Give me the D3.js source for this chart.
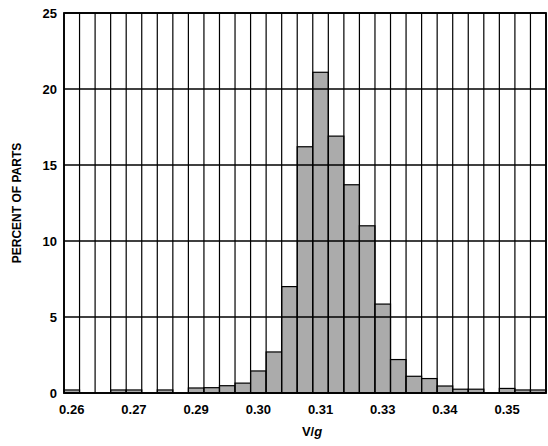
<!DOCTYPE html><html><head><meta charset="utf-8">
<script src="https://cdn.jsdelivr.net/npm/d3@7"></script>
<style>body{margin:0;background:#fff}text{font-family:"Liberation Sans",Arial,sans-serif;font-weight:bold}</style>
</head><body><svg id="c" width="548" height="446"></svg><script>
const values=[0.2,0,0,0.2,0.2,0,0.2,0,0.33,0.35,0.48,0.65,1.45,2.7,7.0,16.2,21.1,16.9,13.7,11.0,5.85,2.2,1.1,0.95,0.46,0.25,0.25,0,0.3,0.2,0.2];
const tickLabels={0:"0.26",4:"0.27",8:"0.29",12:"0.30",16:"0.31",20:"0.33",24:"0.34",28:"0.35"};
const yTicks=[0,5,10,15,20,25];
const svg=d3.select("#c");
const L=64,R=546,T=13,B=393;
const x=d3.scaleBand().domain(d3.range(values.length)).range([L,R]).padding(0);
const y=d3.scaleLinear().domain([0,25]).range([B,T]);
svg.selectAll("rect.b").data(values).join("rect").attr("x",(d,i)=>x(i)).attr("width",x.bandwidth())
 .attr("y",d=>y(d)).attr("height",d=>B-y(d)).attr("fill","#ababab").attr("stroke","#000").attr("stroke-width",1.2);
svg.selectAll("line.v").data(d3.range(values.length+1)).join("line")
 .attr("x1",i=>L+i*x.bandwidth()).attr("x2",i=>L+i*x.bandwidth()).attr("y1",T).attr("y2",B).attr("stroke","#000").attr("stroke-width",1.2);
svg.selectAll("line.h").data(yTicks).join("line").attr("x1",L).attr("x2",R).attr("y1",d=>y(d)).attr("y2",d=>y(d)).attr("stroke","#000").attr("stroke-width",1.4);
svg.append("rect").attr("x",L).attr("y",T).attr("width",R-L).attr("height",B-T).attr("fill","none").attr("stroke","#000").attr("stroke-width",1.8);
svg.selectAll("text.y").data(yTicks).join("text").attr("x",L-7).attr("y",d=>y(d)+4.5).attr("text-anchor","end").attr("font-size",13).text(d=>d);
svg.selectAll("text.x").data(Object.keys(tickLabels)).join("text").attr("x",i=>x(+i)+x.bandwidth()/2).attr("y",414).attr("text-anchor","middle").attr("font-size",13).text(i=>tickLabels[i]);
const xt=svg.append("text").attr("x",312).attr("y",436).attr("text-anchor","middle").attr("font-size",13);
xt.append("tspan").text("V/");xt.append("tspan").attr("font-style","italic").text("g");
svg.append("text").attr("transform","translate(21,203) rotate(-90)").attr("text-anchor","middle").attr("font-size",12).text("PERCENT OF PARTS");
</script></body></html>
